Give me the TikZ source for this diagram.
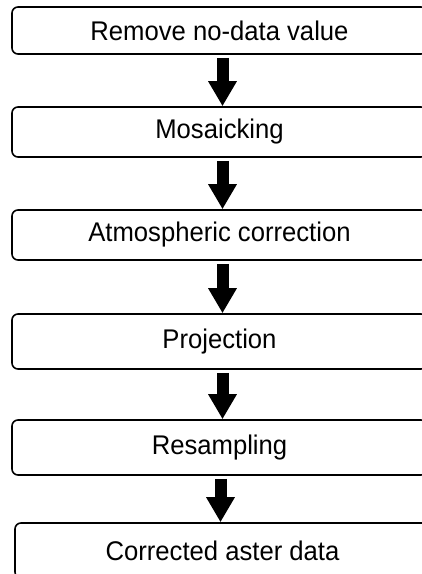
\documentclass[tikz,border=0pt]{standalone}
\usepackage{fontspec}
\setmainfont{Liberation Sans}[FakeStretch=0.95]
\usetikzlibrary{arrows.meta}

\begin{document}
\begin{tikzpicture}[
  x=1pt,y=-1pt,
  every node/.style={font=\fontsize{27}{32}\selectfont},
  box/.style={draw,line width=1.6pt,rounded corners=6pt,
              minimum width=415pt,inner sep=0pt,align=center},
  flow/.style={line width=12pt,-{Triangle[width=27pt,length=25pt]}}
]
  \useasboundingbox (0,0) rectangle (422,574);
  \node[box,minimum height=47pt] (nodata) at (219.5,30.5) {Remove no-data value};
  \node[box,minimum height=50pt] (mosaic) at (219.5,132) {Mosaicking};
  \node[box,minimum height=50pt] (atmos) at (219.5,235) {Atmospheric correction};
  \node[box,minimum height=55pt] (proj) at (219.5,341.5) {Projection};
  \node[box,minimum height=55pt] (resamp) at (219.5,447.5) {Resampling};
  \node[box,minimum height=55pt] (result) at (222.5,550.5) {Corrected aster data};
  \draw[flow] ([xshift=3pt,yshift=-3pt]nodata.south) -- ([xshift=3pt]mosaic.north);
  \draw[flow] ([xshift=3pt,yshift=-3pt]mosaic.south) -- ([xshift=3pt]atmos.north);
  \draw[flow] ([xshift=3pt,yshift=-3pt]atmos.south) -- ([xshift=3pt]proj.north);
  \draw[flow] ([xshift=3pt,yshift=-3pt]proj.south) -- ([xshift=3pt]resamp.north);
  \draw[flow] ([xshift=1pt,yshift=-3pt]resamp.south) -- ([xshift=-2pt]result.north);
\end{tikzpicture}
\end{document}
